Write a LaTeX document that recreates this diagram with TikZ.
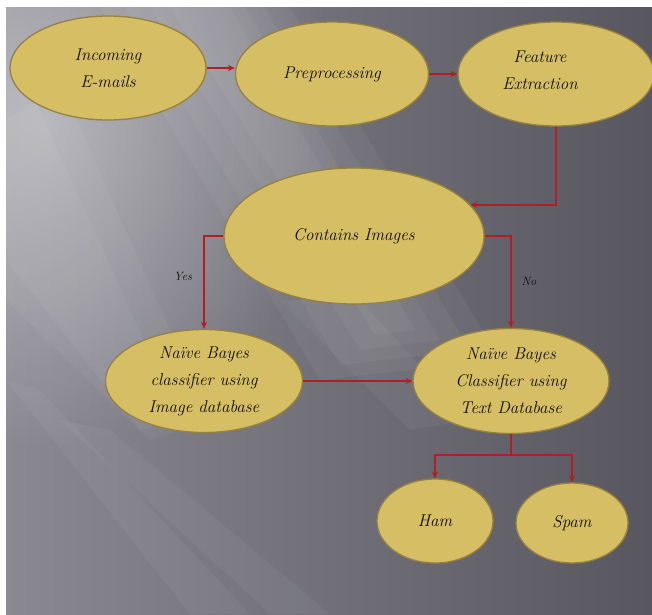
\documentclass[tikz,border=0pt]{standalone}
\usetikzlibrary{arrows.meta,shapes.geometric,fadings}
\tikzfading[name=myglow, inner color=transparent!0, outer color=transparent!100]
\definecolor{ellfill}{RGB}{214,190,100}
\definecolor{elldraw}{RGB}{150,130,62}
\definecolor{arr}{RGB}{175,32,36}
\definecolor{txt}{RGB}{15,12,10}
\definecolor{bgl}{RGB}{138,137,146}
\definecolor{bgr}{RGB}{88,87,95}
\begin{document}
\begin{tikzpicture}[x=1pt,y=-1pt,
  ell/.style={ellipse, draw=elldraw, line width=1.3pt, fill=ellfill, inner sep=0pt,
    text=txt, font=\itshape\fontsize{17}{27}\selectfont, align=center},
  conn/.style={draw=arr, line width=1.5pt, -{Stealth[length=7pt,width=6pt]}},
  lab/.style={font=\itshape\fontsize{12}{14}\selectfont, text=txt},
  ray/.style={fill=white, opacity=0.045}]
\useasboundingbox (0,0) rectangle (652,614);
\fill[white] (0,0) rectangle (652,614);
\begin{scope}
\clip (6,7) rectangle (652,614);
\shade[left color=bgl, right color=bgr] (6,7) rectangle (652,614);
\fill[white, opacity=0.4, path fading=myglow] (40,120) ellipse (300 and 330);
% main light ray, soft edges
\fill[ray] (100,7) -- (290,7) -- (500,360) -- (320,380) -- cycle;
\fill[ray] (125,7) -- (265,7) -- (470,350) -- (340,365) -- cycle;
\fill[ray] (150,7) -- (245,7) -- (440,340) -- (360,350) -- cycle;
\fill[ray] (170,7) -- (230,7) -- (415,330) -- (375,335) -- cycle;
% left rays
\fill[ray] (6,80) -- (50,60) -- (210,420) -- (150,440) -- (6,300) -- cycle;
\fill[ray] (6,120) -- (35,100) -- (180,420) -- (140,430) -- (6,260) -- cycle;
\fill[ray] (6,380) -- (40,390) -- (250,614) -- (190,614) -- cycle;
\fill[ray] (60,420) -- (110,430) -- (330,614) -- (270,614) -- cycle;
\fill[ray] (280,300) -- (360,300) -- (470,420) -- (410,430) -- cycle;

% nodes
\node[ell, minimum width=196, minimum height=104] (inc) at (108,68) {Incoming\\E-mails};
\node[ell, minimum width=193, minimum height=104] (pre) at (332,74) {Preprocessing};
\node[ell, minimum width=196, minimum height=104] (fea) at (556,74) {};
\node[text=txt, font=\itshape\fontsize{17}{27}\selectfont, align=center] (featxt) at (540,70) {Feature\\Extraction};
\node[ell, minimum width=260, minimum height=136] (con) at (354,236) {Contains Images};
\node[ell, minimum width=197, minimum height=103] (nbl) at (204,381) {Naïve Bayes\\classifier using\\Image database};
\node[ell, minimum width=196, minimum height=105] (nbr) at (511,381) {Naïve Bayes\\Classifier using\\Text Database};
\node[ell, minimum width=116, minimum height=84] (ham) at (435,521) {Ham};
\node[ell, minimum width=112, minimum height=80] (spam) at (572,523) {Spam};

% connectors
\draw[conn] (inc.east) -- (inc.east -| pre.west);
\draw[conn] (pre.east) -- (pre.east -| fea.west);
\draw[conn] (fea.south) |- (con.15);
\draw[conn] (con.west) -| (nbl.north);
\draw[conn] (con.east) -| (nbr.north);
\draw[conn] (nbl.east) -- (nbr.west);
\coordinate (br) at (511,455);
\draw[draw=arr, line width=1.5pt] (nbr.south) -- (br);
\draw[conn] (br) -| (ham.north);
\draw[conn] (br) -| (spam.north);

\node[lab] (yes) at (183,276) {Yes};
\node[lab] (no) at (529,281) {No};
\end{scope}
\end{tikzpicture}
\end{document}
